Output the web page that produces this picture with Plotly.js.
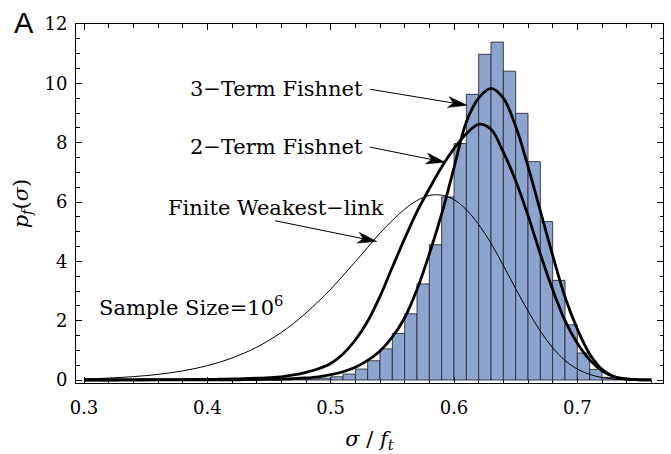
<!DOCTYPE html>
<html><head><meta charset="utf-8">
<script src="https://cdn.plot.ly/plotly-3.0.1.min.js"></script>
<style>html,body{margin:0;padding:0;background:#fff}#chart{width:671px;height:454px}</style>
</head><body><div id="chart"></div>
<script>
// Histogram (bin width 0.01): bin centers and heights
const binCenters = [0.455,0.465,0.475,0.485,0.495,0.505,0.515,0.525,0.535,0.545,0.555,0.565,0.575,0.585,0.595,0.605,0.615,0.625,0.635,0.645,0.655,0.665,0.675,0.685,0.695,0.705,0.715,0.725,0.735,0.745];
const binHeights = [0.008,0.015,0.025,0.035,0.06,0.11,0.20,0.37,0.65,1.05,1.57,2.23,3.24,4.56,6.17,7.97,9.63,10.98,11.39,10.41,8.99,7.36,5.34,3.36,1.86,0.91,0.36,0.09,0.02,0.005];

// Curves sampled along sigma/f_t
const sigma = [0.30,0.31,0.32,0.33,0.34,0.35,0.36,0.37,0.38,0.39,0.40,0.41,0.42,0.43,0.44,0.45,0.46,0.47,0.48,0.49,0.50,0.51,0.52,0.53,0.54,0.55,0.56,0.57,0.58,0.59,0.60,0.61,0.62,0.63,0.64,0.65,0.66,0.67,0.68,0.69,0.70,0.71,0.72,0.73,0.74,0.75,0.76];
const weakestLink = [0.037,0.050,0.066,0.088,0.114,0.148,0.190,0.243,0.308,0.388,0.484,0.60,0.742,0.91,1.105,1.34,1.605,1.91,2.26,2.65,3.06,3.52,3.99,4.47,4.95,5.38,5.76,6.05,6.22,6.23,6.08,5.74,5.24,4.61,3.86,3.08,2.33,1.65,1.09,0.66,0.37,0.19,0.084,0.034,0.012,0.004,0.001];
const fishnet2 = [0.004,0.005,0.006,0.007,0.008,0.010,0.012,0.014,0.016,0.018,0.020,0.027,0.035,0.045,0.06,0.08,0.11,0.17,0.26,0.38,0.56,0.88,1.35,1.98,2.82,3.8,4.77,5.68,6.45,7.18,7.8,8.3,8.62,8.45,7.68,6.72,5.55,4.25,3.05,2.0,1.24,0.68,0.31,0.11,0.035,0.01,0.003];
const fishnet3 = [0.001,0.001,0.001,0.002,0.002,0.002,0.003,0.003,0.004,0.004,0.005,0.006,0.008,0.011,0.015,0.021,0.03,0.045,0.07,0.11,0.18,0.28,0.43,0.66,0.98,1.45,2.1,3.05,4.25,5.6,7.15,8.7,9.5,9.83,9.5,8.55,7.2,5.7,4.2,2.8,1.72,0.88,0.36,0.11,0.03,0.008,0.002];

const xTickVals = [0.3,0.4,0.5,0.6,0.7];
const xTickText = ['0.3','0.4','0.5','0.6','0.7'];
const yTickVals = [0,2,4,6,8,10,12];
const yTickText = ['0','2','4','6','8','10','12'];

const curveLabels = ['3\u2212Term Fishnet','2\u2212Term Fishnet','Finite Weakest\u2212link'];
const sampleLabel = 'Sample Size=10<sup>6</sup>';

const W = 671, H = 454;
const margin = {l:76, r:8, t:24, b:71};
const xRange = [0.29351, 0.76946];
const yRange = [-0.1, 12];
const kx = (W - margin.l - margin.r) / (xRange[1] - xRange[0]);
const ky = (H - margin.t - margin.b) / (yRange[1] - yRange[0]);

const serif = 'DejaVu Serif, Liberation Serif, serif';

const traces = [
  {type:'bar', x:binCenters, y:binHeights, width:0.01,
   marker:{color:'rgb(141,165,206)', line:{color:'rgba(45,45,55,0.9)', width:1}},
   hoverinfo:'skip', showlegend:false},
  {type:'scatter', mode:'lines', x:sigma, y:weakestLink, line:{color:'#000', width:1, shape:'spline'}, showlegend:false},
  {type:'scatter', mode:'lines', x:sigma, y:fishnet2, line:{color:'#000', width:2.8, shape:'spline'}, showlegend:false},
  {type:'scatter', mode:'lines', x:sigma, y:fishnet3, line:{color:'#000', width:2.8, shape:'spline'}, showlegend:false}
];

// arrows: tail -> tip (data coords)
const arrows = [
  {tail:[0.532, 9.80], tip:[0.6106, 9.26]},
  {tail:[0.532, 7.85], tip:[0.5928, 7.34]},
  {tail:[0.4549, 5.37], tip:[0.5374, 4.67]}
];
const shapes = [];
arrows.forEach(a => {
  const dx = (a.tip[0]-a.tail[0])*kx, dy = -(a.tip[1]-a.tail[1])*ky;
  const len = Math.hypot(dx,dy), ux = dx/len, uy = dy/len, px = -uy, py = ux;
  const L = 19, Wd = 5.5, N = 5;
  const toData = (sx, sy) => [a.tip[0] + sx/kx, a.tip[1] - sy/ky];
  const bl = toData(-ux*L + px*Wd, -uy*L + py*Wd);
  const br = toData(-ux*L - px*Wd, -uy*L - py*Wd);
  const nt = toData(-ux*(L-N), -uy*(L-N));
  shapes.push({type:'line', xref:'x', yref:'y', x0:a.tail[0], y0:a.tail[1], x1:nt[0], y1:nt[1], line:{color:'#000', width:1}});
  shapes.push({type:'path', xref:'x', yref:'y',
    path:`M${a.tip[0]},${a.tip[1]} L${bl[0]},${bl[1]} L${nt[0]},${nt[1]} L${br[0]},${br[1]} Z`,
    fillcolor:'#000', line:{color:'#000', width:0.5}});
});

const annFont = {family:serif, size:21, color:'#000'};
const annotations = [
  {x:0.3852, y:9.80, xref:'x', yref:'y', text:curveLabels[0], showarrow:false, xanchor:'left', yanchor:'middle', font:annFont, borderpad:0},
  {x:0.3852, y:7.84, xref:'x', yref:'y', text:curveLabels[1], showarrow:false, xanchor:'left', yanchor:'middle', font:annFont, borderpad:0},
  {x:0.3673, y:5.81, xref:'x', yref:'y', text:curveLabels[2], showarrow:false, xanchor:'left', yanchor:'middle', font:annFont, borderpad:0},
  {x:0.3114, y:2.50, xref:'x', yref:'y', text:sampleLabel, showarrow:false, xanchor:'left', yanchor:'middle', font:annFont, borderpad:0},
  {x:(24-margin.l)/(W-margin.l-margin.r), y:(H-margin.b-22.5)/(H-margin.t-margin.b), xref:'paper', yref:'paper', text:'A', showarrow:false,
   xanchor:'center', yanchor:'middle', font:{family:'Liberation Sans, Arial, sans-serif', size:29, color:'#000'}}
];

const axisCommon = {showgrid:false, zeroline:false, showline:true, linecolor:'#000', linewidth:1, mirror:'allticks',
  ticks:'inside', ticklen:6, tickwidth:1, tickcolor:'#000', tickfont:{family:serif, size:18, color:'#000'}};

const layout = {
  width:W, height:H, margin:margin, paper_bgcolor:'#fff', plot_bgcolor:'#fff', showlegend:false, bargap:0,
  xaxis: Object.assign({}, axisCommon, {range:xRange, tickmode:'array', tickvals:xTickVals, ticktext:xTickText,
    minor:{dtick:0.02, tick0:0.3, ticks:'inside', ticklen:3.5, tickcolor:'#000', tickwidth:1},
    ticklabelstandoff:8,
    title:{text:'<i>σ</i> / <i>f</i><sub><i>t</i></sub>', font:{family:serif, size:21, color:'#000'}, standoff:14}}),
  yaxis: Object.assign({}, axisCommon, {range:yRange, tickmode:'array', tickvals:yTickVals, ticktext:yTickText,
    minor:{dtick:0.5, tick0:0, ticks:'inside', ticklen:3.5, tickcolor:'#000', tickwidth:1},
    ticklabelstandoff:4,
    title:{text:'<i>p</i><sub><i>f</i></sub>(<i>σ</i>)', font:{family:serif, size:21, color:'#000'}, standoff:10}}),
  shapes:shapes, annotations:annotations
};

Plotly.newPlot('chart', traces, layout, {displayModeBar:false, staticPlot:true});
</script>
</body></html>
